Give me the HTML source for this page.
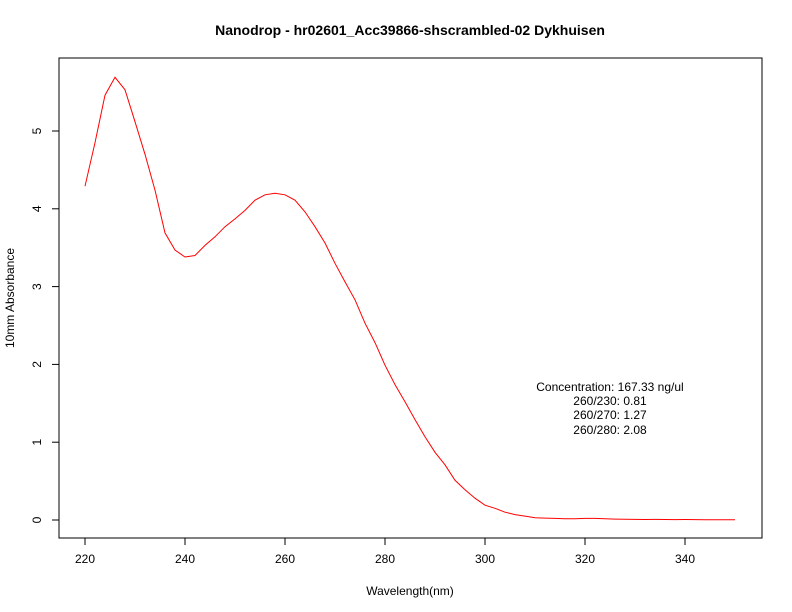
<!DOCTYPE html>
<html><head><meta charset="utf-8"><style>
body{margin:0;background:#fff}
svg{display:block;font-family:"Liberation Sans",sans-serif}
</style></head><body>
<svg id="chart" width="792" height="612" viewBox="0 0 792 612">
<rect width="792" height="612" fill="#fff"/>
<text x="410" y="35" text-anchor="middle" font-size="14" font-weight="bold">Nanodrop - hr02601_Acc39866-shscrambled-02 Dykhuisen</text>
<rect x="59" y="58" width="703" height="480" fill="none" stroke="#000"/>
<g id="xaxis"></g>
<g id="yaxis"></g>
<text x="410" y="595" text-anchor="middle" font-size="12">Wavelength(nm)</text>
<text transform="translate(14,298) rotate(-90)" text-anchor="middle" font-size="12">10mm Absorbance</text>
<path id="curve" fill="none" stroke="#ff0000" stroke-width="1"/>
<g font-size="12" text-anchor="middle">
<text x="610" y="391">Concentration: 167.33 ng/ul</text>
<text x="610" y="405">260/230: 0.81</text>
<text x="610" y="419">260/270: 1.27</text>
<text x="610" y="434">260/280: 2.08</text>
</g>
</svg>
<script>
const wavelengths=[220,222,224,226,228,230,232,234,236,238,240,242,244,246,248,250,252,254,256,258,260,262,264,266,268,270,272,274,276,278,280,282,284,286,288,290,292,294,296,298,300,302,304,306,308,310,312,314,316,318,320,322,324,326,328,330,332,334,336,338,340,342,344,346,348,350];
const absorbance=[4.29,4.85,5.46,5.69,5.53,5.12,4.7,4.24,3.69,3.47,3.38,3.4,3.53,3.64,3.77,3.87,3.98,4.11,4.18,4.2,4.18,4.11,3.96,3.77,3.56,3.3,3.06,2.83,2.53,2.28,1.99,1.74,1.52,1.29,1.07,0.87,0.71,0.51,0.39,0.28,0.19,0.15,0.1,0.07,0.05,0.03,0.025,0.02,0.015,0.015,0.02,0.02,0.015,0.012,0.01,0.008,0.006,0.008,0.006,0.005,0.006,0.005,0.004,0.004,0.003,0.003];
const xTicks=[220,240,260,280,300,320,340];
const yTicks=[0,1,2,3,4,5];
const NS="http://www.w3.org/2000/svg";
function xs(v){return 85+(v-220)*5;}
function ys(v){return 520-v*77.8;}
function mk(tag,attrs,parent){const e=document.createElementNS(NS,tag);for(const k in attrs)e.setAttribute(k,attrs[k]);parent.appendChild(e);return e;}
const xa=document.getElementById('xaxis'),ya=document.getElementById('yaxis');
mk('line',{x1:xs(220),x2:xs(340),y1:538,y2:538,stroke:'#000'},xa);
xTicks.forEach(t=>{
  const l=mk('line',{x1:xs(t),x2:xs(t),y1:538,y2:545,stroke:'#000'},xa);
  
  
  const tx=mk('text',{x:xs(t),y:563,'text-anchor':'middle','font-size':12},xa);
  tx.textContent=t;
  
  
});
mk('line',{x1:59,x2:59,y1:ys(0),y2:ys(5),stroke:'#000'},ya);
yTicks.forEach(t=>{
  const l=mk('line',{x1:52,x2:59,y1:ys(t),y2:ys(t),stroke:'#000'},ya);
  
  
  const tx=mk('text',{transform:`translate(41,${ys(t)}) rotate(-90)`,'text-anchor':'middle','font-size':12},ya);
  tx.textContent=t;
  
  
});
document.getElementById('curve').setAttribute('d',wavelengths.map((w,i)=>(i?'L':'M')+xs(w)+','+ys(absorbance[i]).toFixed(1)).join(''));
</script>
</body></html>
